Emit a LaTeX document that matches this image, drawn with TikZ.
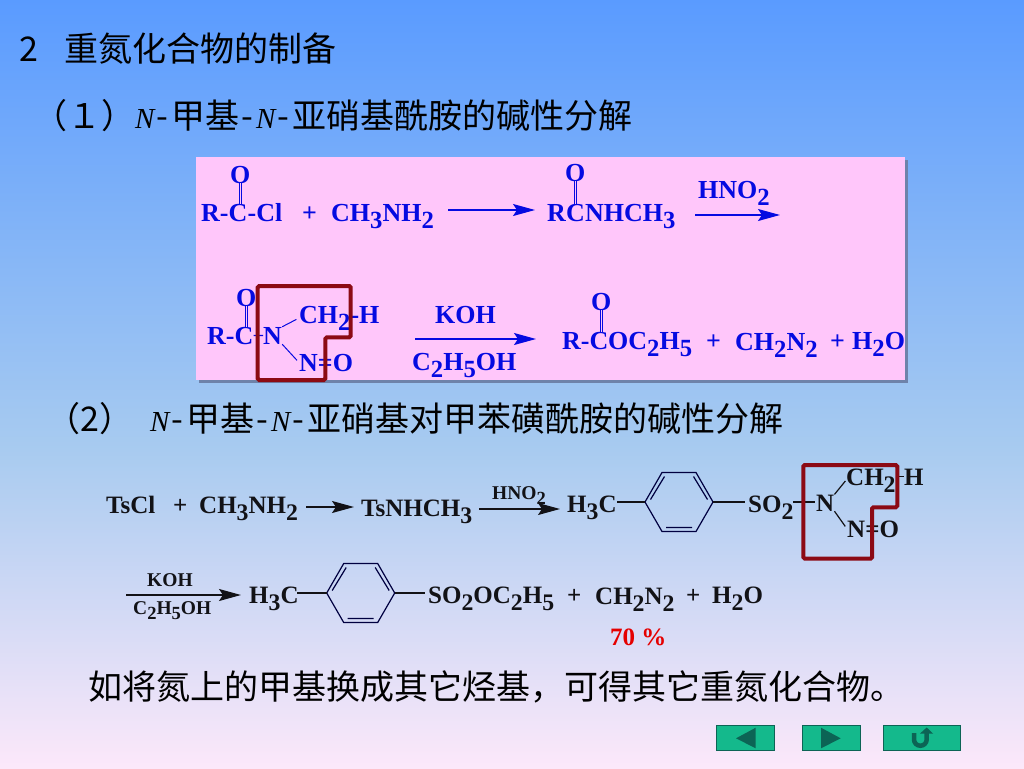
\documentclass[tikz,border=0pt]{standalone}
\usepackage{fontspec}
\setmainfont{Liberation Serif}
\newfontfamily\cjk{Noto Sans CJK SC}
\usetikzlibrary{arrows.meta}
\definecolor{bgtop}{RGB}{90,155,255}
\definecolor{bgmid}{RGB}{168,203,240}
\definecolor{bgbot}{RGB}{252,232,250}
\definecolor{boxpink}{RGB}{255,198,250}
\definecolor{boxshadow}{RGB}{110,130,170}
\definecolor{chemblue}{RGB}{5,10,225}
\definecolor{chemblack}{RGB}{18,18,22}
\definecolor{markred}{RGB}{140,10,20}
\definecolor{navfill}{RGB}{20,185,140}
\definecolor{navdark}{RGB}{12,100,85}
\newcommand{\dn}[1]{\raisebox{-.28em}{\scalebox{.95}{#1}}}
\newcommand{\nit}{\makebox[19pt]{\rmfamily\itshape\fontsize{29}{30}\selectfont N}}
\newcommand{\hy}{\makebox[17pt]{-}}
\tikzset{
  headdecorate/.style={font=\cjk\fontsize{34}{38}\selectfont,text=black,inner sep=0pt,anchor=base west},
  bluedecorate/.style={font=\bfseries\fontsize{26}{30}\selectfont,text=chemblue,inner sep=0pt,anchor=base west},
  blackdecorate/.style={font=\bfseries\fontsize{25}{30}\selectfont,text=chemblack,inner sep=0pt,anchor=base west},
  smalldecorate/.style={font=\bfseries\fontsize{19.5}{24}\selectfont,text=chemblack,inner sep=0pt,anchor=base west},
  bluebond/.style={draw=chemblue,line width=1pt},
  blackbond/.style={draw=chemblack,line width=1.2pt},
  bluedouble/.style={draw=chemblue,line width=.9pt,double=boxpink,double distance=1.6pt},
  bluearrow/.style={draw=chemblue,line width=1.3pt,-{Stealth[length=22pt,width=12pt,inset=4pt]}},
  blackarrow/.style={draw=chemblack,line width=1.3pt,-{Stealth[length=22pt,width=12pt,inset=4pt]}},
  redframe/.style={draw=markred,line width=4pt,rounded corners=1.5pt},
  navdecorate/.style={draw=navdark,fill=navfill,line width=1pt,inner sep=0pt},
  benzene/.pic={
    \coordinate (-left) at (-34,0);
    \coordinate (-right) at (34,0);
    \draw[blackbond,draw=black!75!blue] (-34,0) -- (-17,-29.5) -- (17,-29.5) -- (34,0)
      -- (17,29.5) -- (-17,29.5) -- cycle;
    \draw[blackbond,draw=black!75!blue] (-28.5,-2.5) -- (-14.5,-25.5)
      (28.5,-2.5) -- (14.5,-25.5) (-13,25.5) -- (13,25.5);
  }
}
\begin{document}
\begin{tikzpicture}[x=1pt,y=-1pt]
\useasboundingbox (0,0) rectangle (1024,768);
\shade[top color=bgtop,bottom color=bgmid] (0,0) rectangle (1024,450.5);
\shade[top color=bgmid,bottom color=bgbot] (0,450) rectangle (1024,768);
%% headings
\node[headdecorate] (numtwo) at (19,62) {2};
\node[headdecorate] (title) at (64,62) {重氮化合物的制备};
\node[headdecorate] (methodone) at (33,128) {（１）\nit\hy 甲基\hy\nit\hy 亚硝基酰胺的碱性分解};
\node[headdecorate] (twomark) at (46,431) {（2）};
\node[headdecorate] (methodtwo) at (150,431) {\nit\hy 甲基\hy\nit\hy 亚硝基对甲苯磺酰胺的碱性分解};
\node[headdecorate] (closing) at (88,699) {如将氮上的甲基换成其它烃基，可得其它重氮化合物。};
%% pink box
\fill[boxshadow] (199,160) rectangle (908,383);
\fill[boxpink] (196,157) rectangle (905,380);
%% blue labels
\foreach \nodename/\x/\y/\txt in {ra/201/221/R-, ca/228.5/221/C, cla/247.5/221/-Cl, oa/230/183/O,
  plusa/302/221/+, amine/331/221/CH\dn{3}NH\dn{2}, rb/547/221/R, cb/566/221/C, nhme/585/221/NHCH\dn{3},
  ob/565/181/O, hno/698/198/HNO\dn{2},
  rc/207/344/R-, cc/234.5/344/C, nc/263/344/N, oc/236/306/O, chc/299/323/CH\dn{2}-H, noc/299/371/N=O,
  koh/435/323/KOH, etoh/412/370/C\dn{2}H\dn{5}OH,
  rd/562/349/R-, cd/589.5/349/C, oet/608/349/OC\dn{2}H\dn{5}, od/591/310/O, plusd/706/349/+,
  dzm/735/350/CH\dn{2}N\dn{2}, pluse/830/349/+, water/852/349/H\dn{2}O} {
  \node[bluedecorate] (\nodename) at (\x,\y) {\txt};
}
\draw[bluedouble] (oa.south) -- (oa.south |- ca.north);
\draw[bluedouble] (ob.south) -- (ob.south |- cb.north);
\draw[bluedouble] (oc.south) -- (oc.south |- cc.north);
\draw[bluedouble] (od.south) -- (od.south |- cd.north);
\draw[bluebond,line width=1.4pt] (cc.east) -- (nc.west);
\draw[bluebond,shorten >=3pt] (nc.north east) -- (chc.west);
\draw[bluebond,shorten >=3pt] (nc.south east) -- (noc.west);
\coordinate (arrowastart) at (448,210);
\coordinate (arrowaend) at (535,210);
\coordinate (arrowbstart) at (695,215);
\coordinate (arrowbend) at (780,215);
\coordinate (arrowcstart) at (415,339);
\coordinate (arrowcend) at (536,339);
\draw[bluearrow] (arrowastart) -- (arrowaend);
\draw[bluearrow] (arrowbstart) -- (arrowbend);
\draw[bluearrow] (arrowcstart) -- (arrowcend);
%% black labels
\foreach \nodename/\x/\y/\txt in {tscl/106/513/TsCl, plusf/173/513/+, amineb/199/513/CH\dn{3}NH\dn{2},
  tsnh/361/516/TsNHCH\dn{3}, hthree/567/512/H\dn{3}C, sotwo/748/512/SO\dn{2}, nf/816/511/N,
  chf/846/485/CH\dn{2}, hf/904/485/H, nof/847/537/N=O,
  hthreeb/249/603/H\dn{3}C, ester/428/603/SO\dn{2}OC\dn{2}H\dn{5}, plusg/567/603/+,
  dzmb/595/604/CH\dn{2}N\dn{2}, plush/686/603/+, waterb/712/603/H\dn{2}O} {
  \node[blackdecorate] (\nodename) at (\x,\y) {\txt};
}
\node[smalldecorate] (hnob) at (492,499) {HNO\dn{2}};
\node[smalldecorate] (kohb) at (147,586) {KOH};
\node[smalldecorate] (etohb) at (133,614) {C\dn{2}H\dn{5}OH};
\node[blackdecorate,text=red!90!black,font=\bfseries\fontsize{25}{28}\selectfont] (yield) at (610,645) {70 \%};
%% rings
\pic (ringa) at (679,502) {benzene};
\pic (ringb) at (360.7,593) {benzene};
\coordinate (bondalft) at (617,502);
\coordinate (bondarht) at (745,502);
\coordinate (bondnlft) at (793,502);
\coordinate (bondnrht) at (815,502);
\coordinate (bondblft) at (297,593);
\coordinate (bondbrht) at (425,593);
\draw[blackbond] (bondalft) -- (ringa-left);
\draw[blackbond] (ringa-right) -- (bondarht);
\draw[blackbond] (bondnlft) -- (bondnrht);
\draw[blackbond] (bondblft) -- (ringb-left);
\draw[blackbond] (ringb-right) -- (bondbrht);
\draw[blackbond,shorten >=1pt] (nf.north east) -- (chf.west);
\draw[blackbond,shorten >=3pt] (nf.south east) -- (nof.west);
\draw[blackbond] (chf.east |- hf.west) -- (hf.west);
\coordinate (arrowdstart) at (306,507);
\coordinate (arrowdend) at (354,507);
\coordinate (arroweStart) at (479,509);
\coordinate (arroweEnd) at (560,509);
\coordinate (arrowfstart) at (126,595);
\coordinate (arrowfend) at (241,595);
\draw[blackarrow] (arrowdstart) -- (arrowdend);
\draw[blackarrow] (arroweStart) -- (arroweEnd);
\draw[blackarrow] (arrowfstart) -- (arrowfend);
%% red frames
\draw[redframe] (257.7,286) -- (350.7,286) -- (350.7,337.3) -- (325.3,337.3) -- (325.3,380) -- (257.7,380) -- cycle;
\draw[redframe] (803.3,465) -- (897.3,465) -- (897.3,507.3) -- (872,507.3) -- (872,558.7) -- (803.3,558.7) -- cycle;
%% buttons
\draw[navdecorate] (716,725) rectangle (774.7,750.7);
\draw[navdecorate] (802,725) rectangle (860,750.7);
\draw[navdecorate] (883,725) rectangle (960,750.7);
\fill[navdark] (736,738.3) -- (755.7,727.7) -- (755.7,748.3) -- cycle;
\fill[navdark] (821,727.7) -- (821,748.3) -- (840.7,738.3) -- cycle;
\draw[navdark,line width=4.5pt] (914,733) -- (914,739.4) arc (180:0:6.35) -- (926.7,733);
\fill[navdark] (920,733.5) -- (926.7,727.5) -- (933,733.5) -- cycle;
\end{tikzpicture}
\end{document}
